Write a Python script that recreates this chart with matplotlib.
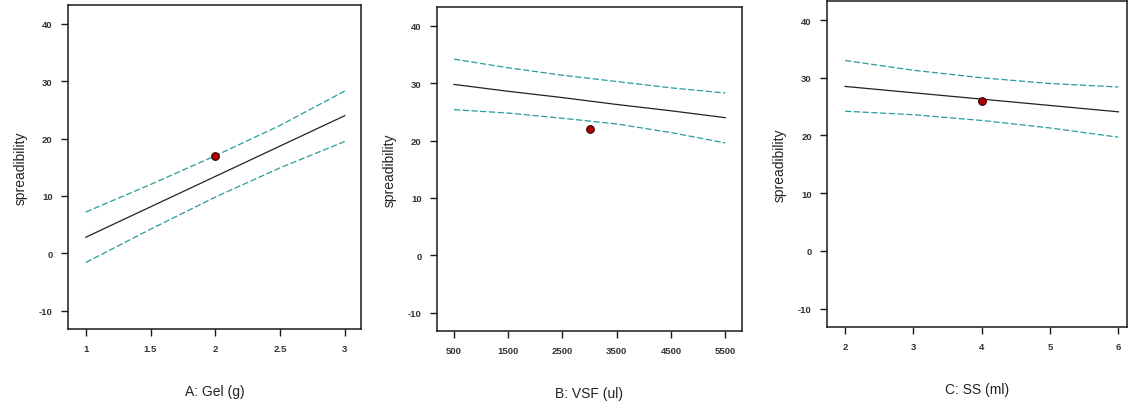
import matplotlib.pyplot as plt

plt.rcParams['font.family'] = ['Liberation Sans', 'DejaVu Sans']
plt.rcParams['axes.unicode_minus'] = False

# A: Gel (g)
gel_x = [1, 1.5, 2, 2.5, 3]
gel_fit = [2.8, 8.1, 13.4, 18.7, 24.0]
gel_upper = [7.2, 12.0, 17.0, 22.3, 28.3]
gel_lower = [-1.6, 4.2, 9.8, 14.9, 19.5]
gel_point = (2, 17.0)
gel_ticks = [1, 1.5, 2, 2.5, 3]

# B: VSF (ul)
vsf_x = [500, 1500, 2500, 3500, 4500, 5500]
vsf_fit = [29.8, 28.6, 27.5, 26.3, 25.2, 24.0]
vsf_upper = [34.2, 32.7, 31.4, 30.3, 29.2, 28.3]
vsf_lower = [25.4, 24.8, 23.9, 22.9, 21.4, 19.6]
vsf_point = (3000, 22.0)
vsf_ticks = [500, 1500, 2500, 3500, 4500, 5500]

# C: SS (ml)
ss_x = [2, 3, 4, 5, 6]
ss_fit = [28.5, 27.4, 26.3, 25.2, 24.1]
ss_upper = [33.0, 31.3, 30.0, 29.0, 28.4]
ss_lower = [24.2, 23.6, 22.6, 21.3, 19.7]
ss_point = (4, 26.0)
ss_ticks = [2, 3, 4, 5, 6]

y_ticks = [-10, 0, 10, 20, 30, 40]

panels = [
    ("A: Gel (g)", gel_x, gel_fit, gel_upper, gel_lower, gel_point, gel_ticks,
     ["1", "1.5", "2", "2.5", "3"], (0.863, 3.126), [0.0603, 0.1872, 0.2598, 0.798]),
    ("B: VSF (ul)", vsf_x, vsf_fit, vsf_upper, vsf_lower, vsf_point, vsf_ticks,
     [str(t) for t in vsf_ticks], (187, 5808), [0.3874, 0.1823, 0.2704, 0.798]),
    ("C: SS (ml)", ss_x, ss_fit, ss_upper, ss_lower, ss_point, ss_ticks,
     [str(t) for t in ss_ticks], (1.736, 6.127), [0.7332, 0.192, 0.266, 0.803]),
]

teal = "#2a9c9c"

fig = plt.figure(figsize=(11.28, 4.06), dpi=100)

for label, x, fit, up, lo, pt, xt, xtl, xlim, rect in panels:
    ax = fig.add_axes(rect)
    ax.plot(x, fit, color="#222222", lw=0.9)
    ax.plot(x, up, color=teal, lw=0.9, ls=(0, (5, 2)))
    ax.plot(x, lo, color=teal, lw=0.9, ls=(0, (5, 2)))
    ax.plot([pt[0]], [pt[1]], "o", ms=5.5, mfc="#b00000", mec="#300000", mew=0.8)
    ax.set_xlim(*xlim)
    ax.set_ylim(-13.2, 43.3)
    ax.set_xticks(xt)
    ax.set_xticklabels(xtl)
    ax.set_yticks(y_ticks)
    for s in ax.spines.values():
        s.set_color("#1a1a1a")
        s.set_linewidth(1.1)
    ax.tick_params(direction="out", length=5, width=1.0, color="#1a1a1a",
                   labelsize=6.8, labelcolor="#333333", pad=6)
    for t in ax.get_xticklabels() + ax.get_yticklabels():
        t.set_fontweight("bold")
    ax.set_xlabel(label, fontsize=10, labelpad=22, color="#222222")
    ax.set_ylabel("spreadibility", fontsize=10, labelpad=8, color="#222222")

fig.savefig("out.png", dpi=100)
